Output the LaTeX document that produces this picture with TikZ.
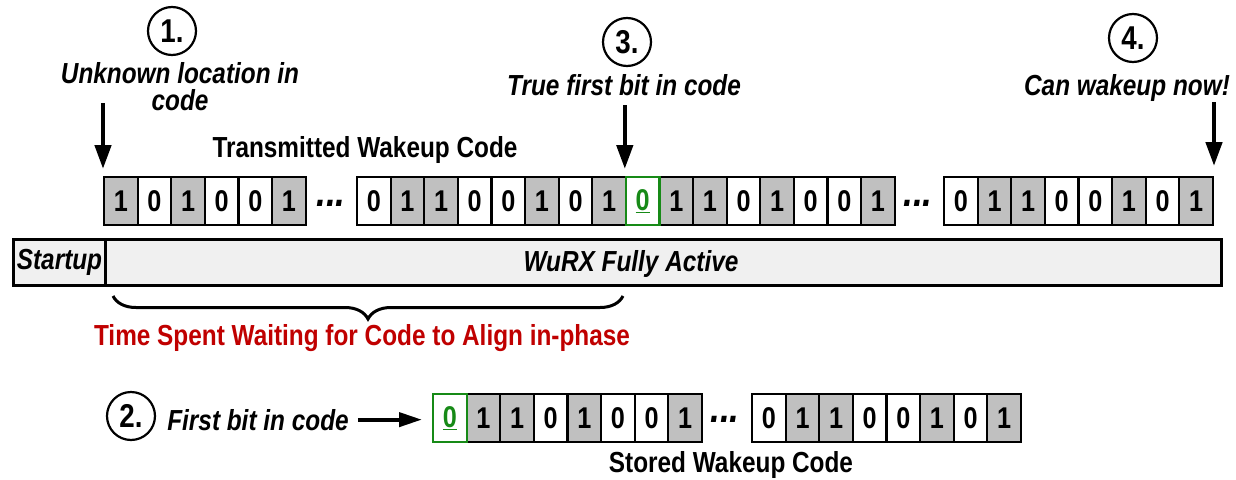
\documentclass[tikz,border=0pt]{standalone}
\usepackage{fontspec}
\setmainfont{Liberation Sans}[FakeStretch=0.84]
\usetikzlibrary{arrows.meta,decorations.pathreplacing,calc}
\definecolor{cellgray}{HTML}{C0C0C0}
\definecolor{barfill}{HTML}{F0F0F0}
\definecolor{codegreen}{HTML}{178A17}
\definecolor{darkred}{HTML}{C00000}
\newcommand\labfont{\fontsize{29}{27}\selectfont\bfseries}
\newcommand\bitrow[4]{%
  \foreach \b [count=\i from 0] in {#4} {%
    \ifnum\b=2 \else
      \ifnum\b=1 \def\fc{cellgray}\else\def\fc{white}\fi
      \node[bitcell, fill=\fc] (#1-\i) at ({#2+33.6*\i},#3) {\b};
    \fi
  }%
  \foreach \b [count=\i from 0] in {#4} {%
    \ifnum\b=2
      \node[bitcell, greencell] (#1-\i) at ({#2+33.6*\i},#3) {\underline{0}};
    \fi
  }%
}
\begin{document}
\begin{tikzpicture}[x=1pt,y=-1pt,
  bitcell/.style={draw, line width=2.2pt, minimum width=33.6pt, minimum height=48pt,
    inner sep=0pt, anchor=north west, font=\fontsize{30}{30}\selectfont\bfseries},
  greencell/.style={fill=white, draw=codegreen, text=codegreen},
  numcirc/.style={draw, circle, line width=2.2pt, minimum size=48pt, inner sep=0pt,
    font=\fontsize{33}{33}\selectfont\bfseries},
  ilab/.style={inner sep=0pt, font=\labfont\itshape, align=center},
  rlab/.style={inner sep=0pt, font=\labfont},
  dotsstyle/.style={inner sep=0pt, font=\fontsize{42}{42}\selectfont\bfseries\itshape},
  bigarrow/.style={line width=4.5pt, -{Triangle[length=24pt,width=16pt]}},
  barbox/.style={draw, line width=3pt, fill=barfill, inner sep=0pt, anchor=north west}
]
\fill[white] (0,0) rectangle (1236,479);
\useasboundingbox (0,0) rectangle (1236,479);

% numbered circles
\node[numcirc] (n1) at (172,31) {1.};
\node[numcirc] (n3) at (627,42) {3.};
\node[numcirc] (n4) at (1133,38) {4.};
\node[numcirc] (n2) at (131,416) {2.};

% top labels
\node[ilab, anchor=north] (unk) at (180,62) {Unknown location in\\code};
\node[ilab, anchor=base] (truefirst) at (624,95) {True first bit in code};
\node[ilab, anchor=base] (canwake) at (1127,95) {Can wakeup now!};
\node[rlab, anchor=base] (txlbl) at (365,157) {Transmitted Wakeup Code};

% transmitted code
\bitrow{t1}{103}{176}{1,0,1,0,0,1}
\node[dotsstyle] (td1) at (331,203) {...};
\bitrow{t2}{356}{176}{0,1,1,0,0,1,0,1,2,1,1,0,1,0,0,1}
\node[dotsstyle] (td2) at (918,203) {...};
\bitrow{t3}{943}{176}{0,1,1,0,0,1,0,1}

% arrows to the code
\coordinate (a1s) at ([yshift=73pt]t1-0.north west);
\coordinate (a3s) at ([yshift=71pt]t2-8.north west);
\coordinate (a4s) at ([yshift=74pt]t3-7.north east);
\draw[bigarrow, shorten >=7pt] (a1s) -- (t1-0.north west);
\draw[bigarrow, shorten >=7pt] (a3s) -- (t2-8.north west);
\draw[bigarrow, shorten >=10pt] (a4s) -- (t3-7.north east);

% activity bar
\node[barbox, minimum width=92pt, minimum height=46pt, font=\labfont\itshape] (startup) at (12,238) {Startup};
\node[barbox, minimum width=1116pt, minimum height=46pt] (active) at (104,238) {};
\node[ilab, anchor=base] (activelbl) at (631,271) {WuRX Fully Active};

% brace
\coordinate (bl) at (113,296);
\coordinate (br) at (623,296);
\draw[line width=3pt, decorate, decoration={brace, mirror, amplitude=23pt, aspect=0.5}] (bl) -- (br);
\node[rlab, anchor=base, text=darkred] (waitlbl) at (362,345) {Time Spent Waiting for Code to Align in-phase};

% stored code
\node[ilab, anchor=base] (firstbit) at (258,430) {First bit in code};
\bitrow{s1}{432}{393}{2,1,1,0,1,0,0,1}
\node[dotsstyle] (sd1) at (725,419) {...};
\bitrow{s2}{751}{393}{0,1,1,0,0,1,0,1}
\node[rlab, anchor=base] (storedlbl) at (731,472) {Stored Wakeup Code};
\draw[line width=4pt, -{Triangle[length=23pt,width=14pt]}, shorten <=9pt, shorten >=10pt]
  (firstbit.east) -- (s1-0.west |- firstbit.east);
\end{tikzpicture}
\end{document}
